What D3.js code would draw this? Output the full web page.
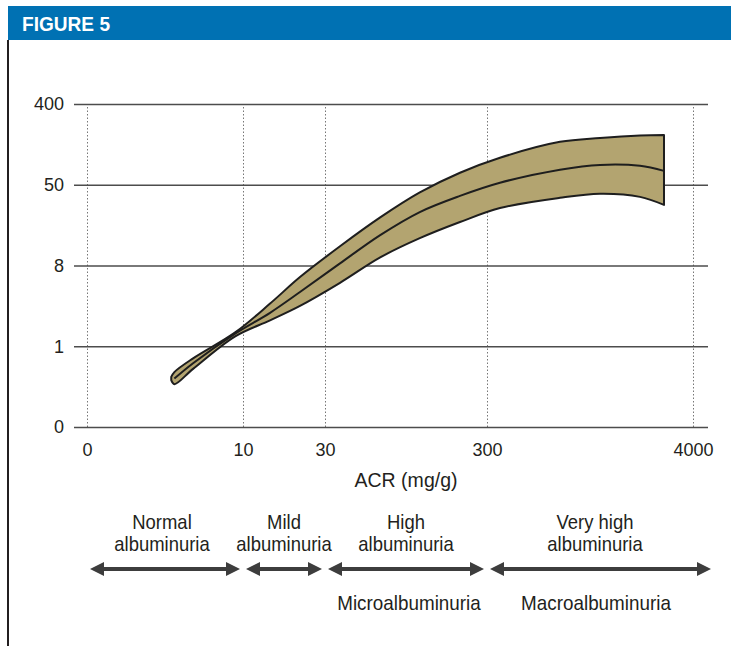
<!DOCTYPE html>
<html>
<head>
<meta charset="utf-8">
<script src="https://cdn.jsdelivr.net/npm/d3@7"></script>
<style>
body { margin: 0; background: #fff; }
text { font-family: "Liberation Sans Narrow", "Liberation Sans", Arial, sans-serif; fill: #231f20; }
</style>
</head>
<body>
<svg id="svg1" width="731" height="646"></svg>
<script>
// axis ticks (schematic axes, ticks equally meaningful)
var xTicks = [0, 10, 30, 300, 4000];
var yTicks = [0, 1, 8, 50, 400];

// band: ACR vs. value (upper edge, centre line, lower edge)
var acr    = [5.4, 5.6, 6.8, 9.5, 16.6, 23.9, 55, 122, 188, 255, 533, 1611, 2330, 3048, 3479];
var upper  = [0.62, 0.68, 0.85, 2.2, 4.7, 7.0, 18, 33, 46, 102, 167, 236, 253, 264, 266];
var middle = [0.6, 0.6, 0.79, 2.1, 3.9, 5.7, 9.1, 23.8, 35.8, 44.2, 58.6, 115, 136, 132, 110];
var lower  = [0.58, 0.53, 0.72, 1.86, 3.25, 4.5, 6.5, 12.2, 22.2, 30.6, 37.9, 43.2, 45.3, 43.7, 39.5];

// albuminuria stages under the axis
var stageTop = ["Normal", "Mild", "High", "Very high"];
var stageFrom = [0, 10, 30, 300];
var stageTo = [10, 30, 300, 4000];
var groups = ["Microalbuminuria", "Macroalbuminuria"];
var groupFrom = [30, 300];
var groupTo = [300, 4000];

var svg1 = d3.select("#svg1"),
	margin = {top: 104, right: 23, bottom: 219, left: 74},
	width = +svg1.attr("width") - margin.left - margin.right,
	height = +svg1.attr("height") - margin.top - margin.bottom;

// header bar
svg1.append("rect")
	.attr("x", 8).attr("y", 6)
	.attr("width", +svg1.attr("width") - 8).attr("height", 34)
	.attr("fill", "#0071b3");

svg1.append("text")
	.attr("x", 22).attr("y", 31)
	.attr("font-size", 21)
	.attr("font-weight", "bold")
	.attr("textLength", 88)
	.attr("lengthAdjust", "spacingAndGlyphs")
	.style("fill", "#fff")
	.text("FIGURE 5");

// left frame line
svg1.append("line")
	.attr("x1", 8).attr("x2", 8)
	.attr("y1", 40).attr("y2", +svg1.attr("height"))
	.attr("stroke", "#231f20")
	.attr("stroke-width", 2);

var g1 = svg1.append("g").attr("transform", "translate(" + margin.left + "," + margin.top + ")");

var x = d3.scaleLinear()
	.domain(xTicks)
	.range([13, 169, 251, 413, 619]);

var y = d3.scaleLinear()
	.domain(yTicks)
	.range(yTicks.map(function(d, i) { return height - i * height / (yTicks.length - 1); }));

// vertical dotted lines + x labels
var xAxis = g1.append("g")
	.attr("class", "x axis")
	.attr("transform", "translate(0," + height + ")")
	.call(d3.axisBottom(x).tickValues(xTicks).tickSize(-height).tickPadding(16).tickFormat(d3.format("d")));

xAxis.select(".domain").remove();
xAxis.selectAll("line")
	.attr("stroke", "#777")
	.attr("stroke-dasharray", "1.5,2")
	.attr("stroke-width", 1);
xAxis.selectAll("text")
	.attr("font-size", 18);
xAxis.attr("font-family", null);

// horizontal grid + y labels
var yAxis = g1.append("g")
	.attr("class", "y axis")
	.call(d3.axisLeft(y).tickValues(yTicks).tickSize(-width).tickPadding(10).tickFormat(d3.format("d")));

yAxis.select(".domain").remove();
yAxis.selectAll("line")
	.attr("stroke", "#4d4d4d")
	.attr("stroke-width", 1.5);
yAxis.selectAll("text")
	.attr("font-size", 18);
yAxis.attr("font-family", null);

// condensed-looking label: larger size, squeezed horizontally
function label(cx, cy, size, sx, s) {
	g1.append("text")
		.attr("transform", "translate(" + cx + "," + cy + ") scale(" + sx + ",1)")
		.attr("text-anchor", "middle")
		.attr("font-size", size)
		.text(s);
}

label((x(30) + x(300)) / 2, height + 60, 21, 0.93, "ACR (mg/g)");

// band
var pts = acr.map(function(d, i) { return {x: d, hi: upper[i], mid: middle[i], lo: lower[i]}; });

var area = d3.area()
	.x(function(d) { return x(d.x); })
	.y0(function(d) { return y(d.lo); })
	.y1(function(d) { return y(d.hi); })
	.curve(d3.curveCatmullRom);

g1.append("path")
	.datum(pts)
	.attr("d", area)
	.attr("fill", "#b3a470")
	.attr("stroke", "#1e1e1e")
	.attr("stroke-width", 2)
	.attr("stroke-linejoin", "round");

g1.append("path")
	.datum(pts.slice(1))
	.attr("d", d3.line()
		.x(function(d) { return x(d.x); })
		.y(function(d) { return y(d.mid); })
		.curve(d3.curveCatmullRom))
	.attr("fill", "none")
	.attr("stroke", "#1e1e1e")
	.attr("stroke-width", 2);

// stage arrows
var arrowY = height + 142;
var arrowColor = "#3d3d3d";

function arrow(x1, x2) {
	var a = g1.append("g");
	a.append("line")
		.attr("x1", x1 + 8).attr("x2", x2 - 8)
		.attr("y1", arrowY).attr("y2", arrowY)
		.attr("stroke", arrowColor)
		.attr("stroke-width", 4);
	a.append("path")
		.attr("d", "M" + x1 + "," + arrowY + "L" + (x1 + 14) + "," + (arrowY - 7) + "L" + (x1 + 14) + "," + (arrowY + 7) + "Z")
		.attr("fill", arrowColor);
	a.append("path")
		.attr("d", "M" + x2 + "," + arrowY + "L" + (x2 - 14) + "," + (arrowY - 7) + "L" + (x2 - 14) + "," + (arrowY + 7) + "Z")
		.attr("fill", arrowColor);
}

stageTop.forEach(function(s, i) {
	var x1 = x(stageFrom[i]) + 3,
		x2 = i == stageTop.length - 1 ? width + 3 : x(stageTo[i]) - 3;
	arrow(x1, x2);
	var cx = (x(stageFrom[i]) + x(stageTo[i])) / 2 + (i == 0 ? -3 : 0) + (i == 3 ? 5 : 0);
	label(cx, height + 102, 20.5, 0.9, s);
	label(cx, height + 124, 20.5, 0.9, "albuminuria");
});

groups.forEach(function(s, i) {
	label((x(groupFrom[i]) + x(groupTo[i])) / 2 + (i == 1 ? 6 : 3), height + 183, 20.5, 0.92, s);
});
</script>
</body>
</html>
